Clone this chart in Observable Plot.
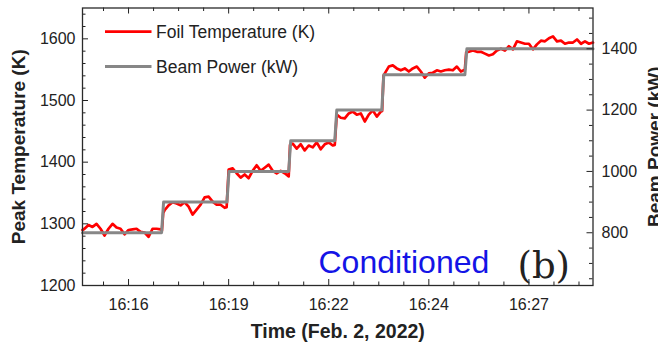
<!DOCTYPE html>
<html>
<head>
<meta charset="utf-8">
<script src="https://cdn.jsdelivr.net/npm/d3@7"></script>
<script src="https://cdn.jsdelivr.net/npm/@observablehq/plot@0.6"></script>
<style>
  html, body { margin: 0; padding: 0; background: #fff; }
  #chart { width: 658px; height: 347px; }
</style>
</head>
<body>
<div id="chart"></div>
<script>
// Foil peak temperature (K), sampled in seconds relative to the 16:16 tick
const tempTimes = [
  -69, -66, -60, -54, -48, -42, -36, -30, -24, -18, -12, -6, 0, 6, 12, 18, 24, 30, 36, 42, 48, 50,
  52, 54, 60, 66, 72, 78, 84, 90, 96, 102, 108, 114, 120, 126, 132, 138, 144, 147,
  150, 156, 162, 168, 174, 180, 186, 192, 198, 204, 210, 216, 222, 228, 234, 240,
  242, 246, 252, 258, 264, 270, 276, 282, 288, 294, 300, 306, 309,
  312, 318, 324, 330, 336, 342, 348, 354, 360, 366, 372, 378, 380,
  382, 384, 390, 396, 402, 408, 414, 420, 426, 432, 438, 444, 450, 456, 462, 468, 474, 480, 486, 492, 498, 504,
  506, 510, 516, 522, 528, 534, 540, 546, 552, 558, 564, 570, 576, 582, 588, 594, 600, 606, 612, 618, 624,
  630, 636, 642, 648, 654, 660, 666, 672, 678, 684, 690, 696
];
const temps = [
  1290, 1292, 1298, 1295, 1300, 1292, 1281, 1292, 1300, 1294, 1292, 1283, 1290, 1291, 1292, 1287, 1286, 1279, 1292, 1292, 1291, 1289,
  1318, 1322, 1330, 1335, 1333, 1330, 1335, 1328, 1315, 1323, 1331, 1343, 1344, 1336, 1331, 1331, 1326, 1327,
  1388, 1390, 1382, 1375, 1380, 1374, 1386, 1395, 1386, 1391, 1396, 1386, 1382, 1386, 1382, 1377,
  1428, 1430, 1422, 1429, 1419, 1427, 1424, 1432, 1421, 1429, 1432, 1427, 1428,
  1477, 1472, 1471, 1479, 1482, 1477, 1479, 1466, 1477, 1484, 1474, 1482, 1483,
  1540, 1544, 1555, 1557, 1552, 1549, 1552, 1547, 1552, 1555, 1547, 1537, 1544, 1545, 1549, 1547, 1549, 1550, 1549, 1555, 1547, 1550,
  1578, 1579, 1581, 1579, 1579, 1576, 1573, 1575, 1581, 1584, 1581, 1588, 1583, 1596, 1594, 1592, 1592, 1583, 1591, 1597, 1596,
  1601, 1604, 1596, 1597, 1592, 1594, 1594, 1599, 1592, 1596, 1592, 1594
];

// Beam power (kW) steps
const powerTimes = [-69, 49.5, 52.5, 147.5, 150.5, 240, 243, 309, 312, 379.5, 382.5, 504, 507, 696];
const powers = [800, 800, 900, 900, 1000, 1000, 1100, 1100, 1200, 1200, 1315, 1315, 1400, 1400];

// Axis ticks
const timeTicks = [0, 150, 300, 450, 600];
const timeTickLabels = ["16:16", "16:19", "16:22", "16:24", "16:27"];
const timeMinorTicks = [-37.5, 37.5, 75, 112.5, 187.5, 225, 262.5, 337.5, 375, 412.5, 487.5, 525, 562.5, 637.5, 675];
const tempTicks = [1200, 1300, 1400, 1500, 1600];
const tempMinorTicks = d3.range(1220, 1650, 20).filter(v => v % 100 !== 0);
const powerTicks = [800, 1000, 1200, 1400];
const powerMinorTicks = [650, 700, 750, 850, 900, 950, 1050, 1100, 1150, 1250, 1300, 1350, 1450, 1500];

const tempDomain = [1200, 1650];
const powerDomain = [628, 1533];

// Right-hand power axis shares the plot's y scale through a linear mapping
const powerToTemp = d3.scaleLinear().domain(powerDomain).range(tempDomain);

const tempData = tempTimes.map((t, i) => ({t, k: temps[i]}));
const powerData = powerTimes.map((t, i) => ({t, kw: powers[i]}));

const W = 658, H = 347;
const mL = 82, mR = 65.5, mT = 7.5, mB = 62;
const innerW = W - mL - mR, innerH = H - mT - mB;
const font = "'Liberation Sans', Arial, sans-serif";
const ink = "#222";

const chart = Plot.plot({
  width: W,
  height: H,
  marginLeft: mL,
  marginRight: mR,
  marginTop: mT,
  marginBottom: mB,
  style: {fontFamily: font, background: "#fff", color: ink, overflow: "visible"},
  x: {domain: [-69, 696]},
  y: {domain: tempDomain},
  marks: [
    Plot.line(tempData, {x: "t", y: "k", stroke: "#ff0000", strokeWidth: 2.7, strokeLinejoin: "round"}),
    Plot.line(powerData, {x: "t", y: d => powerToTemp(d.kw), stroke: "#878787", strokeWidth: 3}),

    // inward tick marks on all four sides
    Plot.tickX(timeTicks, {x: d => d, insetTop: innerH - 6, stroke: ink, strokeWidth: 1}),
    Plot.tickX(timeMinorTicks, {x: d => d, insetTop: innerH - 3.5, stroke: ink, strokeWidth: 1}),
    Plot.tickX(timeTicks, {x: d => d, insetBottom: innerH - 6, stroke: ink, strokeWidth: 1}),
    Plot.tickX(timeMinorTicks, {x: d => d, insetBottom: innerH - 3.5, stroke: ink, strokeWidth: 1}),
    Plot.tickY(tempTicks, {y: d => d, insetRight: innerW - 6, stroke: ink, strokeWidth: 1}),
    Plot.tickY(tempMinorTicks, {y: d => d, insetRight: innerW - 3.5, stroke: ink, strokeWidth: 1}),
    Plot.tickY(powerTicks, {y: d => powerToTemp(d), insetLeft: innerW - 6, stroke: ink, strokeWidth: 1}),
    Plot.tickY(powerMinorTicks, {y: d => powerToTemp(d), insetLeft: innerW - 3.5, stroke: ink, strokeWidth: 1}),

    // tick labels
    Plot.axisX({ticks: timeTicks, tickSize: 0, tickPadding: 13.5, fontSize: 16,
      tickFormat: d => timeTickLabels[timeTicks.indexOf(d)], label: null}),
    Plot.axisY({ticks: tempTicks, tickSize: 0, tickPadding: 7, fontSize: 16, tickFormat: d => String(d), label: null}),
    Plot.axisY({anchor: "right", ticks: powerTicks.map(p => powerToTemp(p)), tickSize: 0, tickPadding: 8.5, fontSize: 16,
      tickFormat: d => String(Math.round(powerToTemp.invert(d))), label: null}),

    // axis titles
    Plot.text(["Time (Feb. 2, 2022)"], {frameAnchor: "bottom", dy: 52, fontSize: 19.5, fontWeight: "bold", fill: ink, textAnchor: "middle"}),
    Plot.text(["Peak Temperature (K)"], {frameAnchor: "left", dx: -64, rotate: -90, fontSize: 19, fontWeight: "bold", fill: ink, textAnchor: "middle"}),
    Plot.text(["Beam Power (kW)"], {frameAnchor: "right", dx: 61.5, rotate: -90, fontSize: 19, fontWeight: "bold", fill: ink, textAnchor: "middle"}),

    // panel annotations
    Plot.text(["Conditioned"], {frameAnchor: "bottom-left", dx: 236, dy: -13, fontSize: 32, fill: "#1414e6", textAnchor: "start", lineAnchor: "bottom"}),
    Plot.text(["(b)"], {frameAnchor: "bottom-left", dx: 435, dy: -8, fontSize: 37, fill: ink, textAnchor: "start", lineAnchor: "bottom",
      fontFamily: "'DejaVu Serif', serif"}),

    Plot.frame({stroke: "#2a2a2a", strokeWidth: 1.3})
  ]
});

document.getElementById("chart").appendChild(chart);

// Legend in the upper-left corner of the panel
const legendItems = [
  {label: "Foil Temperature (K)", color: "#ff0000", width: 2.7, y: 31.7},
  {label: "Beam Power (kW)", color: "#878787", width: 3, y: 66.5}
];
const svg = d3.select(chart);
const legend = svg.append("g")
  .attr("font-family", font)
  .attr("font-size", 17.5)
  .attr("fill", ink)
  .attr("text-anchor", "start");
legendItems.forEach(item => {
  legend.append("line")
    .attr("x1", 105).attr("x2", 151.5)
    .attr("y1", item.y).attr("y2", item.y)
    .attr("stroke", item.color).attr("stroke-width", item.width);
  legend.append("text")
    .attr("x", 156).attr("y", item.y)
    .attr("dy", "0.36em")
    .text(item.label);
});
</script>
</body>
</html>
